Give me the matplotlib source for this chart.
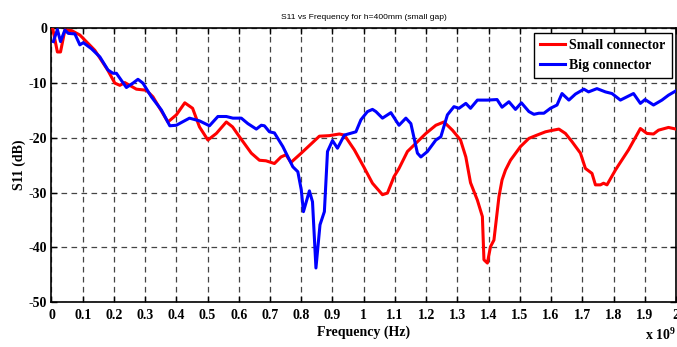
import matplotlib
matplotlib.use("Agg")
import matplotlib.pyplot as plt
import numpy as np

# Frequency in GHz (axis shows x 10^9 Hz), S11 in dB
small_f = [0.004, 0.019, 0.029, 0.043, 0.065, 0.091, 0.139, 0.18, 0.203, 0.219, 0.235, 0.272,
           0.304, 0.325, 0.373, 0.40, 0.427, 0.452, 0.474, 0.501, 0.528, 0.56, 0.58, 0.602,
           0.64, 0.666, 0.687, 0.714, 0.735, 0.751, 0.767, 0.8, 0.858, 0.89, 0.9, 0.922,
           0.938, 0.97, 1.0, 1.028, 1.06, 1.076, 1.097, 1.113, 1.14, 1.167, 1.199, 1.231,
           1.257, 1.284, 1.31, 1.327, 1.342, 1.364, 1.38, 1.385, 1.396, 1.406, 1.417, 1.433,
           1.443, 1.454, 1.47, 1.502, 1.529, 1.555, 1.582, 1.598, 1.625, 1.646, 1.667, 1.694,
           1.71, 1.731, 1.742, 1.758, 1.768, 1.779, 1.806, 1.816, 1.848, 1.886, 1.907, 1.928,
           1.944, 1.976, 2.0]
small_db = [0.0, -4.3, -4.3, -0.3, -0.4, -1.2, -4.0, -7.6, -10.0, -10.4, -9.9, -11.1,
            -11.3, -12.5, -17.1, -15.8, -13.6, -14.6, -18.0, -20.4, -19.2, -17.1, -18.0, -19.8,
            -22.8, -24.1, -24.2, -24.7, -23.5, -23.1, -24.5, -22.8, -19.7, -19.6, -19.5, -19.3,
            -19.5, -22.2, -25.3, -28.3, -30.4, -30.1, -27.1, -25.6, -22.5, -21.0, -19.2, -17.7,
            -17.1, -18.6, -20.4, -23.5, -28.2, -31.4, -34.4, -42.3, -42.9, -39.9, -38.7, -30.8,
            -27.7, -25.9, -24.1, -21.6, -20.1, -19.5, -18.9, -18.7, -18.4, -19.2, -20.7, -22.8,
            -25.6, -26.5, -28.6, -28.6, -28.3, -28.6, -25.9, -25.0, -22.2, -18.3, -19.2, -19.3,
            -18.6, -18.1, -18.4]

big_f = [0.006, 0.019, 0.029, 0.043, 0.054, 0.075, 0.091, 0.102, 0.128, 0.155, 0.181, 0.197,
         0.208, 0.24, 0.261, 0.277, 0.293, 0.32, 0.352, 0.379, 0.40, 0.416, 0.442, 0.474,
         0.506, 0.533, 0.56, 0.581, 0.608, 0.629, 0.656, 0.672, 0.682, 0.698, 0.714, 0.741,
         0.773, 0.789, 0.8, 0.807, 0.826, 0.836, 0.847, 0.86, 0.874, 0.884, 0.9, 0.916,
         0.938, 0.975, 0.991, 1.012, 1.028, 1.039, 1.06, 1.087, 1.113, 1.135, 1.151, 1.172,
         1.183, 1.204, 1.231, 1.247, 1.268, 1.289, 1.305, 1.327, 1.342, 1.364, 1.396, 1.427,
         1.443, 1.465, 1.486, 1.505, 1.529, 1.545, 1.561, 1.577, 1.598, 1.619, 1.635, 1.657,
         1.678, 1.705, 1.72, 1.747, 1.774, 1.795, 1.822, 1.864, 1.886, 1.901, 1.928, 1.955,
         1.976, 2.0]
big_db = [-2.4, -0.2, -2.4, -0.3, -0.9, -1.0, -3.0, -2.6, -3.7, -5.2, -7.6, -8.2,
          -8.2, -10.8, -10.0, -9.3, -10.0, -12.5, -14.9, -17.8, -17.7, -17.2, -16.4, -16.9,
          -17.8, -16.1, -16.1, -16.4, -16.4, -17.4, -18.4, -17.7, -17.8, -18.9, -19.1, -21.6,
          -25.3, -26.2, -29.5, -33.5, -29.7, -31.7, -43.8, -35.9, -33.5, -22.5, -20.5, -21.9,
          -19.5, -18.9, -16.7, -15.2, -14.8, -15.2, -16.4, -15.4, -17.7, -16.4, -17.4, -22.8,
          -23.5, -22.5, -20.4, -19.8, -15.8, -14.3, -14.6, -13.7, -14.6, -13.1, -13.1, -13.0,
          -14.4, -13.4, -14.8, -13.6, -15.2, -15.7, -15.5, -15.5, -14.6, -14.0, -11.9, -13.1,
          -12.0, -11.1, -11.6, -11.0, -11.6, -11.9, -13.1, -11.9, -13.7, -13.0, -14.0, -13.1,
          -12.2, -11.4]

x_ticks = [0, 0.1, 0.2, 0.3, 0.4, 0.5, 0.6, 0.7, 0.8, 0.9, 1.0, 1.1, 1.2, 1.3, 1.4, 1.5,
           1.6, 1.7, 1.8, 1.9, 2.0]
x_labels = ["0", "0.1", "0.2", "0.3", "0.4", "0.5", "0.6", "0.7", "0.8", "0.9", "1", "1.1",
            "1.2", "1.3", "1.4", "1.5", "1.6", "1.7", "1.8", "1.9", "2"]
y_ticks = [-50, -40, -30, -20, -10, 0]
y_labels = ["-50", "-40", "-30", "-20", "-10", "0"]

serif = ["Liberation Serif", "DejaVu Serif"]

fig = plt.figure(figsize=(6.77, 3.47), dpi=100)
ax = fig.add_axes([0.076, 0.130, 0.9225, 0.788])

ax.plot(small_f, small_db, color=(1, 0, 0), lw=2.2, label="Small connector", zorder=3)
ax.plot(big_f, big_db, color=(0, 0, 1), lw=2.2, label="Big connector", zorder=4)

ax.set_xlim(0, 2)
ax.set_ylim(-50, 0)
ax.set_xticks(x_ticks)
ax.set_xticklabels(x_labels, family=serif, fontweight="bold", fontsize=10)
ax.set_yticks(y_ticks)
ax.set_yticklabels(y_labels, family=serif, fontweight="bold", fontsize=10)
ax.tick_params(direction="in", top=True, right=True, length=4, width=1)
ax.tick_params(axis="x", pad=5)
ax.tick_params(axis="y", pad=3)
for s in ax.spines.values():
    s.set_linewidth(1.2)
ax.grid(True, color="#444444", linestyle=(0, (4.5, 3.5)), linewidth=0.9)

ax.set_xlabel("Frequency (Hz)", family=serif, fontweight="bold", fontsize=10, labelpad=3)
ax.set_ylabel("S11 (dB)", family=serif, fontweight="bold", fontsize=10, labelpad=2)
ax.set_title("S11 vs Frequency for h=400mm (small gap)", fontsize=6.1,
             family=["Liberation Sans", "DejaVu Sans"], pad=7)

fig.text(0.999, 0.012, r"x 10$^{\mathregular{9}}$", family=serif, fontweight="bold",
         fontsize=10, ha="right", va="bottom")

leg = ax.legend(loc="upper right", prop={"family": serif, "weight": "bold", "size": 10},
                fancybox=False, edgecolor="black", framealpha=1, borderpad=0.45,
                handlelength=1.8, handletextpad=0.3, labelspacing=0.5,
                borderaxespad=0.3)
leg.get_frame().set_linewidth(1.0)

fig.savefig("out.png", dpi=100)
